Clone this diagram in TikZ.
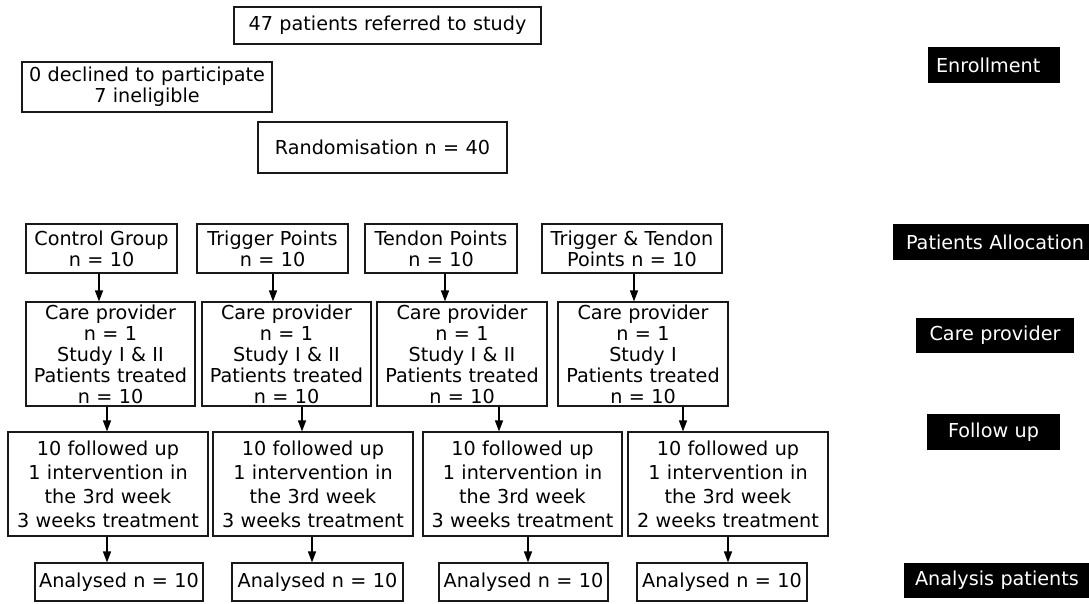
\documentclass[tikz,border=0pt]{standalone}
\usepackage{fontspec}
\setmainfont{DejaVu Sans}
\usetikzlibrary{arrows.meta}
\newcommand\mkbox[7]{\node[#1, minimum width={#4-#3}, minimum height={#6-#5}, text width={#4-#3-4}] (#2) at ({(#3+#4)/2},{(#5+#6)/2}) {#7};}
\newcommand\mktag[8]{\node[tag, minimum width={#4-#3}, minimum height={#6-#5}, text width={#4-#3-2*#7}, align=#1] (#2) at ({(#3+#4)/2},{(#5+#6)/2}) {#8};}
\begin{document}
\begin{tikzpicture}[x=1pt,y=-1pt,
  box/.style={draw=black!90, line width=1.1pt, inner sep=0pt, align=center, font=\fontsize{19.2}{21}\selectfont},
  fbox/.style={box, font=\fontsize{19.2}{24}\selectfont},
  tag/.style={fill=black, text=white, inner sep=0pt, font=\fontsize{19.2}{21}\selectfont},
  arr/.style={-{Triangle[length=11pt,width=8pt]}, line width=1.3pt, draw=black}]
\useasboundingbox (0,0) rectangle (1089,603);
% enrollment
\mkbox{box}{ref}{234}{541}{7}{44}{47 patients referred to study}
\mkbox{box}{decl}{22}{272}{62}{112}{0 declined to participate\\7 ineligible}
\mkbox{box}{rand}{258}{507}{122}{173}{Randomisation n = 40}
% allocation
\mkbox{box}{cg}{26}{177}{224}{273}{Control Group\\n = 10}
\mkbox{box}{tp}{197}{348}{224}{273}{Trigger Points\\n = 10}
\mkbox{box}{tdp}{365}{517}{224}{273}{Tendon Points\\n = 10}
\mkbox{box}{tt}{542}{722}{224}{273}{Trigger \& Tendon\\Points n = 10}
% care provider
\mkbox{box}{cp1}{26}{195}{302}{406}{Care provider\\n = 1\\Study I \& II\\Patients treated\\n = 10}
\mkbox{box}{cp2}{202}{371}{302}{406}{Care provider\\n = 1\\Study I \& II\\Patients treated\\n = 10}
\mkbox{box}{cp3}{377}{547}{302}{406}{Care provider\\n = 1\\Study I \& II\\Patients treated\\n = 10}
\mkbox{box}{cp4}{558}{728}{302}{406}{Care provider\\n = 1\\Study I\\Patients treated\\n = 10}
% follow up
\mkbox{fbox}{fu1}{8}{208}{432}{536}{10 followed up\\1 intervention in\\the 3rd week\\3 weeks treatment}
\mkbox{fbox}{fu2}{213}{413}{432}{536}{10 followed up\\1 intervention in\\the 3rd week\\3 weeks treatment}
\mkbox{fbox}{fu3}{423}{622}{432}{536}{10 followed up\\1 intervention in\\the 3rd week\\3 weeks treatment}
\mkbox{fbox}{fu4}{628}{828}{432}{536}{10 followed up\\1 intervention in\\the 3rd week\\2 weeks treatment}
% analysis
\mkbox{box}{an1}{35}{203}{563}{601}{Analysed n = 10}
\mkbox{box}{an2}{232}{403}{563}{601}{Analysed n = 10}
\mkbox{box}{an3}{439}{608}{563}{601}{Analysed n = 10}
\mkbox{box}{an4}{637}{807}{563}{601}{Analysed n = 10}
% side tags
\mktag{left}{t1}{928}{1060}{47}{83}{8}{Enrollment}
\mktag{left}{t2}{893}{1100}{224}{260}{13}{Patients Allocation}
\mktag{center}{t3}{916}{1074}{318}{353}{4}{Care provider}
\mktag{center}{t4}{927}{1060}{414}{450}{4}{Follow up}
\mktag{left}{t5}{904}{1100}{563}{598}{11}{Analysis patients}
% arrow columns
\coordinate (a1) at (99,0);  \coordinate (a2) at (273,0);
\coordinate (a3) at (445,0); \coordinate (a4) at (634,0);
\coordinate (b1) at (107,0); \coordinate (b2) at (302,0);
\coordinate (b3) at (499,0); \coordinate (b4) at (683,0);
\coordinate (c1) at (107,0); \coordinate (c2) at (312,0);
\coordinate (c3) at (528,0); \coordinate (c4) at (728,0);
\draw[arr] (cg.south -| a1) -- (cp1.north -| a1);
\draw[arr] (tp.south -| a2) -- (cp2.north -| a2);
\draw[arr] (tdp.south -| a3) -- (cp3.north -| a3);
\draw[arr] (tt.south -| a4) -- (cp4.north -| a4);
\draw[arr] (cp1.south -| b1) -- (fu1.north -| b1);
\draw[arr] (cp2.south -| b2) -- (fu2.north -| b2);
\draw[arr] (cp3.south -| b3) -- (fu3.north -| b3);
\draw[arr] (cp4.south -| b4) -- (fu4.north -| b4);
\draw[arr] (fu1.south -| c1) -- (an1.north -| c1);
\draw[arr] (fu2.south -| c2) -- (an2.north -| c2);
\draw[arr] (fu3.south -| c3) -- (an3.north -| c3);
\draw[arr] (fu4.south -| c4) -- (an4.north -| c4);
\end{tikzpicture}
\end{document}
